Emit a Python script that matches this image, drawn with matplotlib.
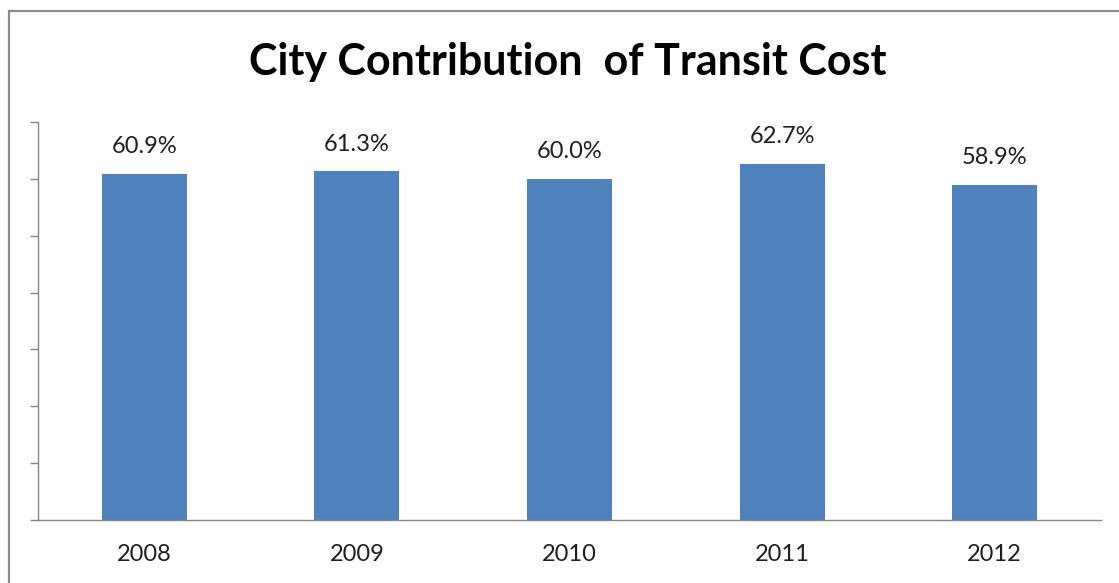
import matplotlib
matplotlib.use("Agg")
import matplotlib.pyplot as plt
from matplotlib.patches import Rectangle

years = ["2008", "2009", "2010", "2011", "2012"]
city_share = [60.9, 61.3, 60.0, 62.7, 58.9]
title_text = "City Contribution  of Transit Cost"

bar_color = "#4F81BD"
axis_color = "#868686"
text_color = "#1F1F1F"

plt.rcParams["font.family"] = ["Lato", "DejaVu Sans"]

fig = plt.figure(figsize=(11.19, 5.83), dpi=100)
W, H = 1119, 583

# outer chart frame (runs off the right and bottom edges)
fig.patches.append(Rectangle((9 / W, -0.1), 1.2, (H - 11) / H + 0.1,
                             transform=fig.transFigure, fill=False,
                             edgecolor="#8C8C8C", linewidth=1.6))

ax = fig.add_axes([38 / W, (H - 520) / H, (1101 - 38) / W, (520 - 122) / H])
x = range(len(years))
bars = ax.bar(x, city_share, width=0.4, color=bar_color, zorder=2)

ax.set_xlim(-0.5, len(years) - 0.5)
ax.set_ylim(0, 70)
ax.set_yticks(range(0, 71, 10))
ax.set_yticklabels([])
ax.set_xticks(list(x))
ax.set_xticklabels(years, fontsize=17, color=text_color)
ax.tick_params(axis="x", length=0, pad=17)
ax.tick_params(axis="y", length=6, width=1, color=axis_color, direction="out")

for side in ("top", "right"):
    ax.spines[side].set_visible(False)
for side in ("left", "bottom"):
    ax.spines[side].set_color(axis_color)
    ax.spines[side].set_linewidth(1)

for rect, val in zip(bars, city_share):
    ax.annotate(f"{val:.1f}%", (rect.get_x() + rect.get_width() / 2, val),
                xytext=(0, 12), textcoords="offset points",
                ha="center", va="bottom", fontsize=17, color=text_color)

fig.text(568 / W, 1 - 62 / H, title_text, ha="center", va="center",
         fontsize=31, fontweight="bold", color="black")

fig.savefig("out.png", dpi=100, facecolor="white")
